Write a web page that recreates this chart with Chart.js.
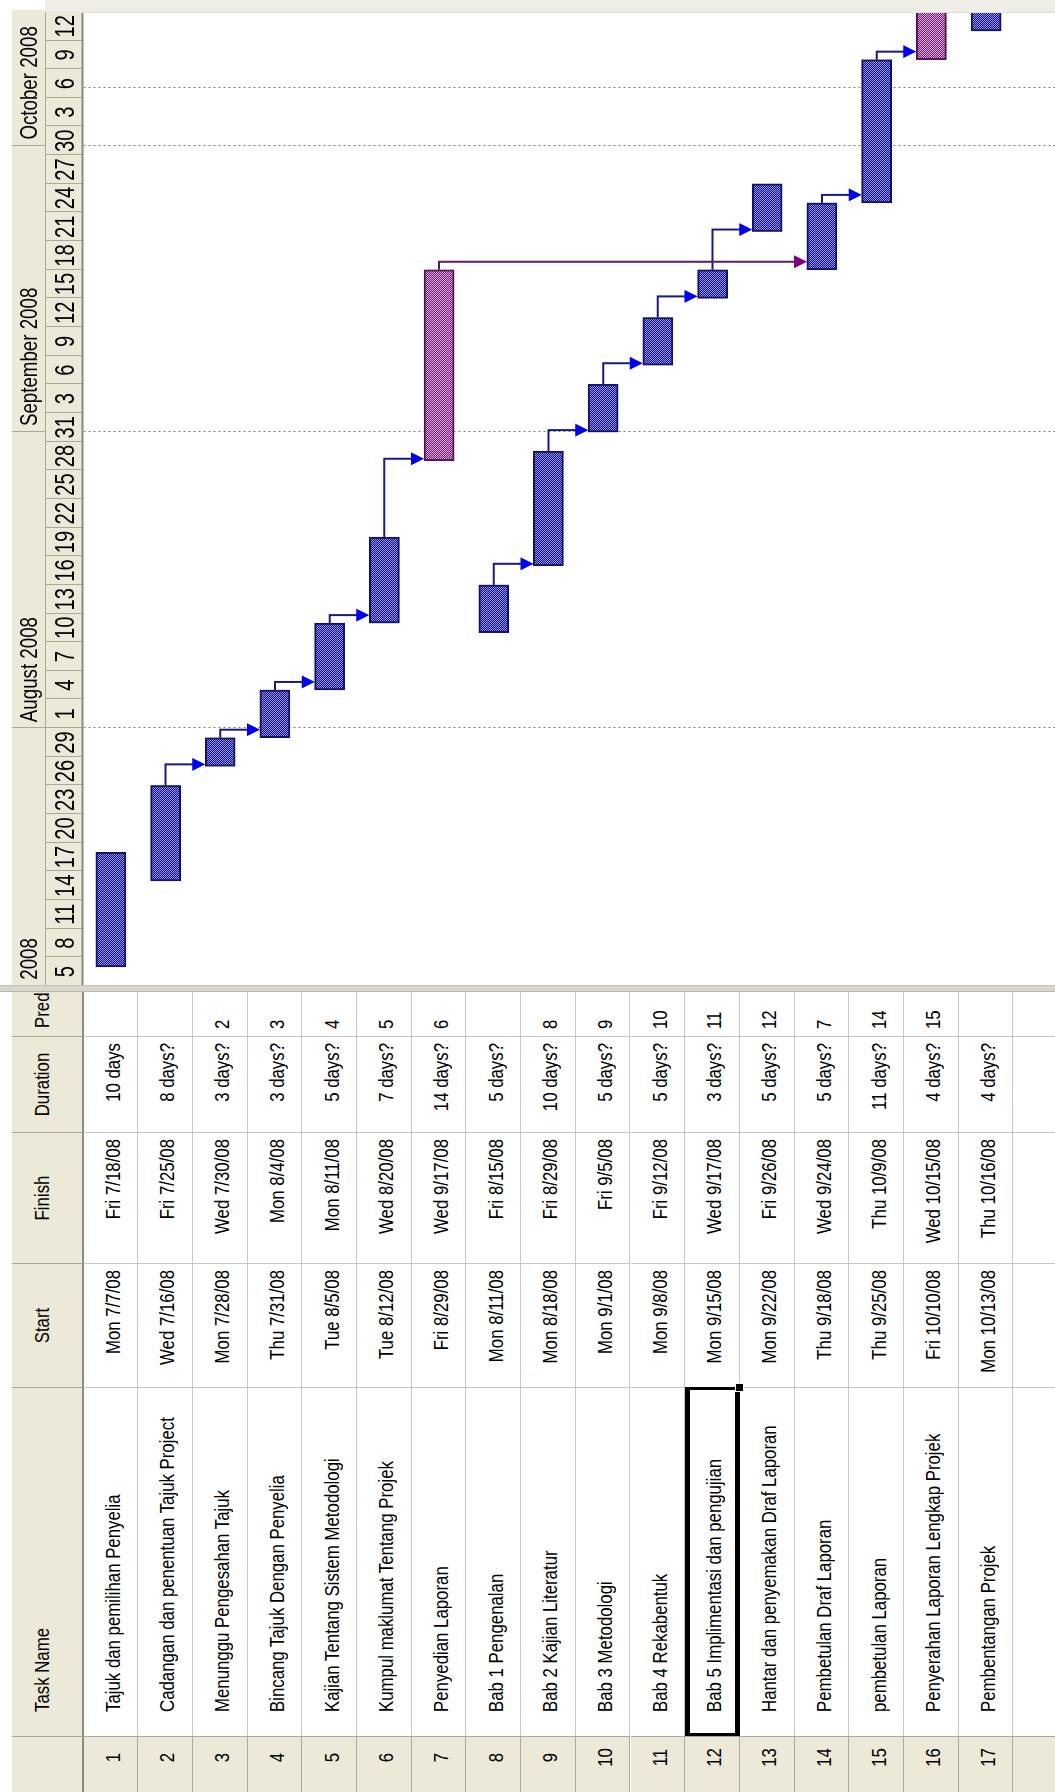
<!DOCTYPE html>
<html>
<head>
<meta charset="utf-8">
<title>Jadual Projek</title>
<script src="https://cdn.jsdelivr.net/npm/chart.js@4.4.0/dist/chart.umd.min.js"></script>
<style>
  html, body { margin: 0; padding: 0; background: #fff; }
  body { width: 1055px; height: 1792px; overflow: hidden; position: relative;
         font-family: "Liberation Sans", Arial, sans-serif; color: #000; }
  /* the Project view is laid out landscape and turned a quarter to the left */
  #stage { position: absolute; left: 0; top: 0; width: 1792px; height: 1055px;
           transform-origin: 0 0; transform: translateY(1792px) rotate(-90deg);
           background: #fff; overflow: hidden; }
  .cell { position: absolute; box-sizing: border-box; overflow: hidden; white-space: nowrap; }
  .cell span { position: absolute; white-space: nowrap; }
  #gantt { position: absolute; left: 806px; top: 0; width: 986px; height: 1055px; }
  #divider { position: absolute; left: 800px; top: 0; width: 7px; height: 1055px;
             background: #d8d5cb; border-left: 1px solid #b9b6aa; border-right: 1px solid #c4c1b5; box-sizing: border-box; }
</style>
</head>
<body>
<div id="stage">
  <div id="table"></div>
  <div id="gantt"><canvas id="chart" width="986" height="1055"></canvas></div>
  <div id="divider"></div>
</div>
<script>
// ---- task sheet ----
const taskIds = [1, 2, 3, 4, 5, 6, 7, 8, 9, 10, 11, 12, 13, 14, 15, 16, 17];
const taskNames = [
  'Tajuk dan pemilihan Penyelia',
  'Cadangan dan penentuan Tajuk Project',
  'Menunggu Pengesahan Tajuk',
  'Bincang Tajuk Dengan Penyelia',
  'Kajian Tentang Sistem Metodologi',
  'Kumpul maklumat Tentang Projek',
  'Penyedian Laporan',
  'Bab 1 Pengenalan',
  'Bab 2 Kajian Literatur',
  'Bab 3 Metodologi',
  'Bab 4 Rekabentuk',
  'Bab 5 Implimentasi dan pengujian',
  'Hantar dan penyemakan Draf Laporan',
  'Pembetulan Draf Laporan',
  'pembetulan Laporan',
  'Penyerahan Laporan Lengkap Projek',
  'Pembentangan Projek'
];
const startText = ['Mon 7/7/08', 'Wed 7/16/08', 'Mon 7/28/08', 'Thu 7/31/08', 'Tue 8/5/08', 'Tue 8/12/08',
  'Fri 8/29/08', 'Mon 8/11/08', 'Mon 8/18/08', 'Mon 9/1/08', 'Mon 9/8/08', 'Mon 9/15/08',
  'Mon 9/22/08', 'Thu 9/18/08', 'Thu 9/25/08', 'Fri 10/10/08', 'Mon 10/13/08'];
const finishText = ['Fri 7/18/08', 'Fri 7/25/08', 'Wed 7/30/08', 'Mon 8/4/08', 'Mon 8/11/08', 'Wed 8/20/08',
  'Wed 9/17/08', 'Fri 8/15/08', 'Fri 8/29/08', 'Fri 9/5/08', 'Fri 9/12/08', 'Wed 9/17/08',
  'Fri 9/26/08', 'Wed 9/24/08', 'Thu 10/9/08', 'Wed 10/15/08', 'Thu 10/16/08'];
const durationText = ['10 days', '8 days?', '3 days?', '3 days?', '5 days?', '7 days?', '14 days?', '5 days?',
  '10 days?', '5 days?', '5 days?', '3 days?', '5 days?', '5 days?', '11 days?', '4 days?', '4 days?'];
const predecessors = [null, null, 2, 3, 4, 5, 6, null, 8, 9, 10, 11, 12, 7, 14, 15, null];
const highlighted = [false, false, false, false, false, false, true, false, false, false,
  false, false, false, false, false, true, false];
const columnTitles = ['', 'Task Name', 'Start', 'Finish', 'Duration', 'Predecessors'];
const selectedTask = 12;

// ---- timescale ----
const timescaleStart = '7/5/08';
const dayTickLabels = ['5', '8', '11', '14', '17', '20', '23', '26', '29', '1', '4', '7', '10', '13', '16', '19',
  '22', '25', '28', '31', '3', '6', '9', '12', '15', '18', '21', '24', '27', '30', '3', '6', '9', '12'];
const monthLabels = ['July 2008', 'August 2008', 'September 2008', 'October 2008'];
const monthStarts = ['7/1/08', '8/1/08', '9/1/08', '10/1/08'];
const markerDates = ['8/1/08', '9/1/08', '10/1/08', '10/7/08'];

// ---- helpers ----
function parseDay(txt) {
  const m = txt.match(/(\d+)\/(\d+)\/(\d+)/);
  return Date.UTC(2000 + +m[3], +m[1] - 1, +m[2]) / 86400000;
}
const origin = parseDay(timescaleStart);
const dayIndex = t => parseDay(t) - origin;
const barData = startText.map((s, i) => [dayIndex(s), dayIndex(finishText[i]) + 1]);

// ---- sheet layout ----
const HEAD_TOP = 12, ROW_TOP = 83.5, ROW_H = 54.7;
const cols = [
  { x0: 0,   x1: 56,  align: 'center', padL: 14,   padR: 0 },
  { x0: 56,  x1: 405, align: 'left',   padL: 24,   padR: -200 },
  { x0: 405, x1: 529, align: 'right',  padL: -150, padR: 6 },
  { x0: 529, x1: 660, align: 'right',  padL: -150, padR: 6 },
  { x0: 660, x1: 756, align: 'right',  padL: -150, padR: 6 },
  { x0: 756, x1: 801, align: 'left',   padL: 7,    padR: -200 }
];
const FS = 21, SX = 0.8;

function addCell(parent, x0, y0, w, h, css) {
  const d = document.createElement('div');
  d.className = 'cell';
  d.style.cssText += `left:${x0}px;top:${y0}px;width:${w}px;height:${h}px;` + (css || '');
  parent.appendChild(d);
  return d;
}
function addText(cell, str, align, padL, padR, base, size, sx) {
  const s = document.createElement('span');
  s.textContent = str;
  const ox = align === 'left' ? '0' : align === 'right' ? '100%' : '50%';
  s.style.cssText = `left:${padL}px;right:${padR}px;top:${base - 0.8465 * size}px;font-size:${size}px;` +
    `line-height:${size}px;text-align:${align};transform:scaleX(${sx});transform-origin:${ox} 0;`;
  cell.appendChild(s);
}

const table = document.getElementById('table');
// header row
cols.forEach((c, ci) => {
  const cell = addCell(table, c.x0, HEAD_TOP, c.x1 - c.x0, ROW_TOP - HEAD_TOP,
    'background:#ece9d8;border-right:1px solid #aca899;border-bottom:2px solid #8d8b80;');
  if (columnTitles[ci]) {
    const a = ci === 1 || ci === 5 ? 'left' : 'center';
    const pl = ci === 5 ? 8 : (a === 'left' ? c.padL : 0);
    addText(cell, columnTitles[ci], a, pl, a === 'left' ? -200 : 0, 37, FS, SX);
  }
});
// task rows plus one empty row below
for (let r = 0; r < taskIds.length + 1; r++) {
  const y0 = ROW_TOP + r * ROW_H;
  const vals = r < taskIds.length
    ? [String(taskIds[r]), taskNames[r], startText[r], finishText[r], durationText[r],
       predecessors[r] ? String(predecessors[r]) : '']
    : ['', '', '', '', '', ''];
  cols.forEach((c, ci) => {
    const css = ci === 0
      ? 'background:#ece9d8;border-right:1px solid #aca899;border-bottom:1px solid #aca899;'
      : 'background:#fff;border-right:1px solid #c6c6c6;border-bottom:1px solid #c6c6c6;';
    const cell = addCell(table, c.x0, y0, c.x1 - c.x0, ROW_H, css);
    if (vals[ci]) addText(cell, vals[ci], c.align, c.padL, c.padR, 36, FS, SX);
  });
}
// selected task cell
{
  const r = selectedTask - 1;
  const y0 = ROW_TOP + r * ROW_H;
  addCell(table, cols[1].x0, y0, cols[1].x1 - cols[1].x0, ROW_H,
    'border-style:solid;border-color:#000;border-width:5px 3px 5px 3px;overflow:visible;');
  addCell(table, cols[1].x1 - 5, y0 + ROW_H - 5, 9, 9, 'background:#000;border:1px solid #fff;');
}

// ---- Gantt bars ----
function checker(dark, light) {
  const c = document.createElement('canvas');
  c.width = 2; c.height = 2;
  const g = c.getContext('2d');
  g.fillStyle = light; g.fillRect(0, 0, 2, 2);
  g.fillStyle = dark; g.fillRect(0, 0, 1, 1); g.fillRect(1, 1, 1, 1);
  return g.createPattern(c, 'repeat');
}
const canvas = document.getElementById('chart');
const blueFill = checker('#0e0e8c', '#9898da');
const pinkFill = checker('#6e1c6e', '#dcaadc');

const HEAD_MID = 45;   // line between month tier and day tier
const VIEW_RIGHT = 973; // last visible pixel of the timescale
const PX_PER_DAY = 9.55;

const ganttPlugin = {
  id: 'ganttDecor',
  beforeDatasetsDraw(chart) {
    const { ctx } = chart;
    const x = chart.scales.x;
    ctx.save();
    ctx.strokeStyle = '#7a7a7a';
    ctx.lineWidth = 1;
    ctx.setLineDash([2, 3]);
    markerDates.forEach(d => {
      const px = Math.round(x.getPixelForValue(dayIndex(d))) + 0.5;
      ctx.beginPath(); ctx.moveTo(px, ROW_TOP); ctx.lineTo(px, chart.height); ctx.stroke();
    });
    ctx.restore();
  },
  afterDatasetsDraw(chart) {
    const { ctx } = chart;
    const x = chart.scales.x;
    const bars = chart.getDatasetMeta(0).data;
    ctx.save();
    ctx.beginPath(); ctx.rect(0, ROW_TOP, VIEW_RIGHT, chart.height - ROW_TOP); ctx.clip();
    predecessors.forEach((p, i) => {
      if (!p) return;
      const pi = p - 1;
      const xe = x.getPixelForValue(barData[pi][1]);
      const xs = x.getPixelForValue(barData[i][0]);
      const yp = bars[pi].y;
      const half = bars[i].height / 2;
      const yt = bars[i].y - half;
      const xv = Math.max(xs + 2, xe + 8);
      const line = highlighted[pi] ? '#5c1c5c' : '#1a1a84';
      const head = highlighted[pi] ? '#800080' : '#0000f0';
      ctx.strokeStyle = line; ctx.lineWidth = 2; ctx.setLineDash([]);
      ctx.beginPath();
      ctx.moveTo(xe, yp); ctx.lineTo(xv, yp); ctx.lineTo(xv, yt - 11);
      ctx.stroke();
      ctx.fillStyle = head;
      ctx.beginPath();
      ctx.moveTo(xv, yt); ctx.lineTo(xv - 6.5, yt - 13); ctx.lineTo(xv + 6.5, yt - 13); ctx.closePath();
      ctx.fill();
    });
    ctx.restore();
  },
  afterDraw(chart) {
    const { ctx } = chart;
    const x = chart.scales.x;
    ctx.save();
    // timescale header
    ctx.fillStyle = '#ece9d8';
    ctx.fillRect(0, HEAD_TOP, VIEW_RIGHT + 3, ROW_TOP - HEAD_TOP);
    ctx.strokeStyle = '#aca899';
    ctx.lineWidth = 1;
    ctx.beginPath(); ctx.moveTo(0, HEAD_MID + 0.5); ctx.lineTo(VIEW_RIGHT + 3, HEAD_MID + 0.5); ctx.stroke();
    ctx.beginPath();
    ctx.rect(0, HEAD_TOP, VIEW_RIGHT + 3, ROW_TOP - HEAD_TOP);
    ctx.clip();
    ctx.fillStyle = '#000';
    ctx.textBaseline = 'alphabetic';
    // month tier
    monthStarts.forEach((m, k) => {
      const px = x.getPixelForValue(dayIndex(m));
      ctx.strokeStyle = '#aca899';
      ctx.beginPath(); ctx.moveTo(Math.round(px) + 0.5, HEAD_TOP); ctx.lineTo(Math.round(px) + 0.5, HEAD_MID); ctx.stroke();
      ctx.save();
      ctx.translate(px + 6, 37);
      ctx.scale(0.78, 1);
      ctx.font = '24px "Liberation Sans", Arial, sans-serif';
      ctx.textAlign = 'left';
      ctx.fillText(monthLabels[k], 0, 0);
      ctx.restore();
    });
    // day tier, one cell per three days
    dayTickLabels.forEach((lab, k) => {
      const a = x.getPixelForValue(3 * k);
      const c = x.getPixelForValue(3 * k + 1.5);
      ctx.strokeStyle = '#aca899';
      ctx.beginPath(); ctx.moveTo(Math.round(a) + 0.5, HEAD_MID); ctx.lineTo(Math.round(a) + 0.5, ROW_TOP); ctx.stroke();
      ctx.save();
      ctx.translate(c, 74);
      ctx.scale(0.72, 1);
      ctx.font = '28px "Liberation Sans", Arial, sans-serif';
      ctx.textAlign = 'center';
      ctx.fillText(lab, 0, 0);
      ctx.restore();
    });
    ctx.restore();
    // header bottom rule
    ctx.save();
    ctx.fillStyle = '#8d8b80';
    ctx.fillRect(0, ROW_TOP - 2, VIEW_RIGHT + 3, 2);
    // right edge strip
    ctx.fillStyle = '#efede5';
    ctx.fillRect(VIEW_RIGHT, HEAD_MID, chart.width - VIEW_RIGHT, chart.height - HEAD_MID);
    ctx.fillStyle = '#e4e1d6';
    ctx.fillRect(VIEW_RIGHT, HEAD_MID, 1, chart.height - HEAD_MID);
    ctx.restore();
  }
};

new Chart(canvas, {
  type: 'bar',
  data: {
    labels: taskIds.map(String),
    datasets: [{
      data: barData,
      backgroundColor: highlighted.map(h => h ? pinkFill : blueFill),
      borderColor: highlighted.map(h => h ? '#561456' : '#12126e'),
      borderWidth: 2,
      borderSkipped: false,
      barThickness: 30
    }]
  },
  options: {
    indexAxis: 'y',
    responsive: false,
    animation: false,
    devicePixelRatio: 1,
    layout: { padding: { top: ROW_TOP, bottom: 1055 - (ROW_TOP + 17 * ROW_H), left: 0, right: 986 - VIEW_RIGHT } },
    scales: {
      x: { type: 'linear', min: 0, max: VIEW_RIGHT / PX_PER_DAY, display: false },
      y: { type: 'category', display: false, offset: true }
    },
    plugins: { legend: { display: false }, tooltip: { enabled: false } }
  },
  plugins: [ganttPlugin]
});
</script>
</body>
</html>
